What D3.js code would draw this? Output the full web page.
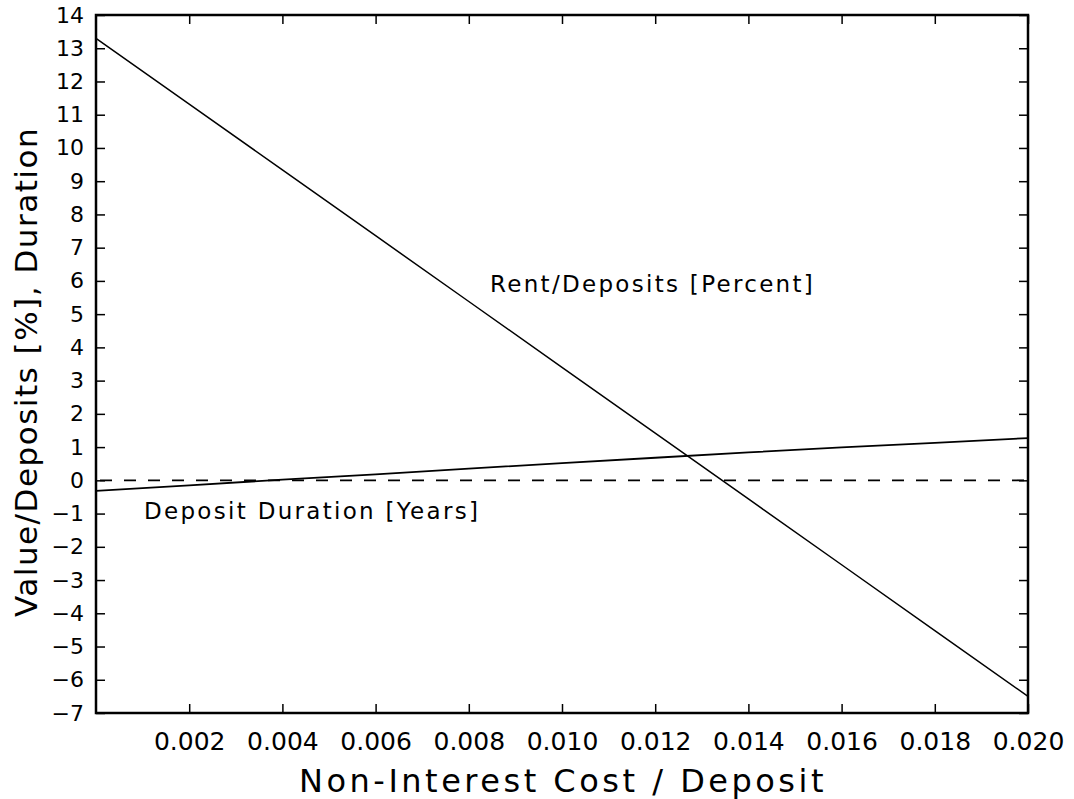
<!DOCTYPE html>
<html>
<head>
<meta charset="utf-8">
<script src="https://cdn.jsdelivr.net/npm/d3@7"></script>
<style>
html,body{margin:0;padding:0;background:#fff;}
text{font-family:"DejaVu Sans",sans-serif;fill:#000;}
</style>
</head>
<body>
<svg id="chart" width="1074" height="799"></svg>
<script>
const costValues = [0, 0.002, 0.004, 0.006, 0.008, 0.010, 0.012, 0.014, 0.016, 0.018, 0.020];
const rentValues = [13.3, 11.32, 9.34, 7.36, 5.38, 3.4, 1.42, -0.56, -2.54, -4.52, -6.5];
const durationValues = [-0.32, -0.15, 0.02, 0.18, 0.35, 0.52, 0.68, 0.84, 0.99, 1.13, 1.27];
const zeroLineValues = [0, 0];
const xTicks = [0.002, 0.004, 0.006, 0.008, 0.010, 0.012, 0.014, 0.016, 0.018, 0.020];
const yTicks = [-7,-6,-5,-4,-3,-2,-1,0,1,2,3,4,5,6,7,8,9,10,11,12,13,14];
const labels = {
  rent: "Rent/Deposits [Percent]",
  duration: "Deposit Duration [Years]",
  xTitle: "Non-Interest Cost / Deposit",
  yTitle: "Value/Deposits [%], Duration"
};

const svg = d3.select("#chart");
const L = 96, R = 1028, T = 15, B = 713;
const x = d3.scaleLinear().domain([0, 0.020]).range([L, R]);
const y = d3.scaleLinear().domain([-7, 14]).range([B, T]);

const tickLen = 9;
svg.append("g").attr("transform", `translate(0,${B})`)
  .call(d3.axisBottom(x).tickValues(xTicks).tickSize(-tickLen).tickPadding(19).tickFormat(d3.format(".3f")))
  .call(g => { g.select(".domain").remove(); g.selectAll("text").style("font-size","25px"); g.selectAll("line").attr("stroke-width",1.5); });
svg.append("g").attr("transform", `translate(0,${T})`)
  .call(d3.axisTop(x).tickValues(xTicks).tickSize(-tickLen).tickFormat(""))
  .call(g => { g.select(".domain").remove(); g.selectAll("line").attr("stroke-width",1.5); });
svg.append("g").attr("transform", `translate(${L},0)`)
  .call(d3.axisLeft(y).tickValues(yTicks).tickSize(-tickLen).tickPadding(12).tickFormat(d3.format("d")))
  .call(g => { g.select(".domain").remove(); g.selectAll("text").style("font-size","22px"); g.selectAll("line").attr("stroke-width",1.5); });
svg.append("g").attr("transform", `translate(${R},0)`)
  .call(d3.axisRight(y).tickValues(yTicks).tickSize(-tickLen).tickFormat(""))
  .call(g => { g.select(".domain").remove(); g.selectAll("line").attr("stroke-width",1.5); });

svg.append("rect").attr("x", L).attr("y", T).attr("width", R - L).attr("height", B - T)
  .attr("fill", "none").attr("stroke", "#000").attr("stroke-width", 2.5);

const line = d3.line().x(d => x(d[0])).y(d => y(d[1]));
svg.append("path").datum(costValues.map((c,i)=>[c, rentValues[i]]))
  .attr("d", line).attr("fill","none").attr("stroke","#000").attr("stroke-width",1.5);
svg.append("path").datum(costValues.map((c,i)=>[c, durationValues[i]]))
  .attr("d", line).attr("fill","none").attr("stroke","#000").attr("stroke-width",1.8);
svg.append("path").datum([[0, zeroLineValues[0]], [0.020, zeroLineValues[1]]])
  .attr("d", line).attr("fill","none").attr("stroke","#000").attr("stroke-width",1.8)
  .attr("stroke-dasharray","12,12").attr("stroke-dashoffset", -4);

svg.append("text").attr("x", 490).attr("y", 292).style("font-size","23px").style("letter-spacing","2.3px").text(labels.rent);
svg.append("text").attr("x", 144).attr("y", 519).style("font-size","23px").style("letter-spacing","2.3px").text(labels.duration);

svg.append("text").attr("x", 563).attr("y", 792).attr("text-anchor","middle")
  .style("font-size","32px").style("letter-spacing","3.5px").text(labels.xTitle);
svg.append("text").attr("transform", `translate(37,372) rotate(-90)`)
  .attr("text-anchor","middle").style("font-size","31px").style("letter-spacing","1.5px").text(labels.yTitle);
</script>
</body>
</html>
